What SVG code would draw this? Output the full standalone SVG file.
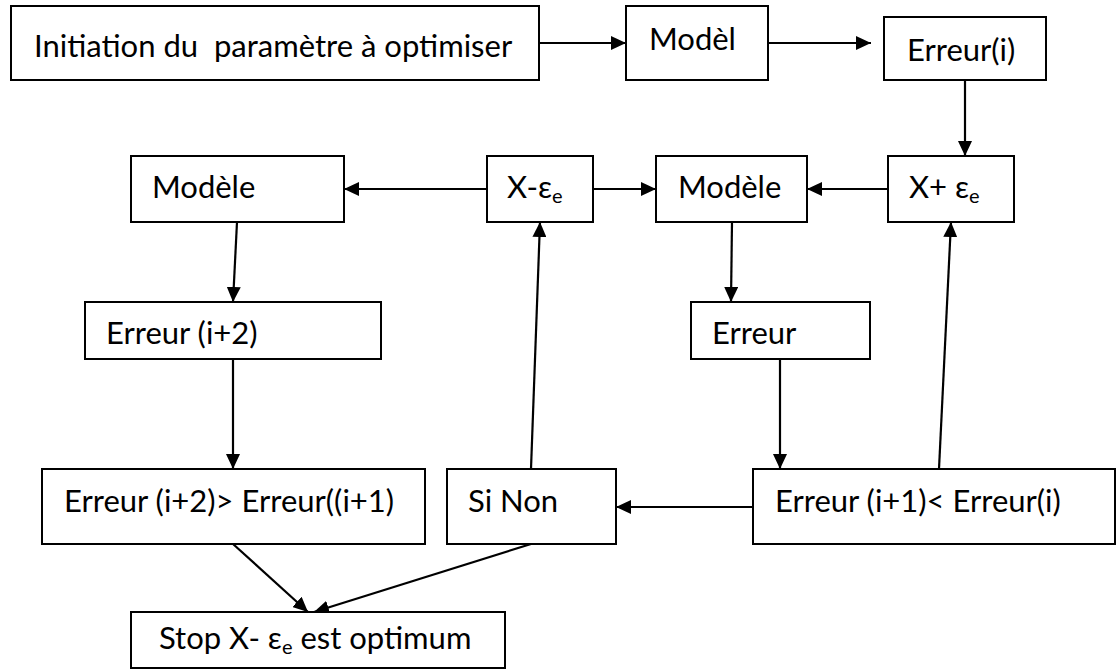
<svg xmlns="http://www.w3.org/2000/svg" width="1117" height="671" viewBox="0 0 1117 671">
<style>
.box{fill:#fff;stroke:#000;stroke-width:2}
.lbl{font-family:Lato,"Liberation Sans",sans-serif;font-size:31px;fill:#000;white-space:pre}
.sub{font-size:20px}
.con{stroke:#000;stroke-width:2.2;fill:none;marker-end:url(#ah)}
</style>
<defs>
<marker id="ah" markerUnits="userSpaceOnUse" markerWidth="15" markerHeight="14" refX="15" refY="7" orient="auto">
<path d="M0,0 L15,7 L0,14 z" fill="#000"/>
</marker>
</defs>
<rect width="1117" height="671" fill="#fff"/>
<g id="connectors">
<line class="con" x1="539" y1="43" x2="626" y2="43"/>
<line class="con" x1="768" y1="43" x2="871" y2="43"/>
<line class="con" x1="965" y1="80" x2="965" y2="156"/>
<line class="con" x1="888" y1="189" x2="807" y2="189"/>
<line class="con" x1="487" y1="189" x2="344" y2="189"/>
<line class="con" x1="593" y1="189" x2="656" y2="189"/>
<line class="con" x1="732" y1="222" x2="731" y2="302"/>
<line class="con" x1="780" y1="359" x2="780" y2="469"/>
<line class="con" x1="753" y1="507" x2="616" y2="507"/>
<line class="con" x1="939" y1="469" x2="951" y2="222"/>
<line class="con" x1="531" y1="469" x2="540" y2="222"/>
<line class="con" x1="237" y1="222" x2="233" y2="302"/>
<line class="con" x1="233" y1="359" x2="233" y2="469"/>
<line class="con" x1="233" y1="544" x2="308" y2="612"/>
<line class="con" x1="531" y1="544" x2="314" y2="612"/>
</g>
<g id="init"><rect class="box" x="11" y="6" width="528" height="74"/><text class="lbl" x="34" y="57" xml:space="preserve">Initiation du  paramètre à optimiser</text></g>
<g id="model1"><rect class="box" x="626" y="6" width="142" height="74"/><text class="lbl" x="649" y="50">Modèl</text></g>
<g id="erreur-i"><rect class="box" x="884" y="17" width="162" height="63"/><text class="lbl" x="907" y="61">Erreur(i)</text></g>
<g id="x-plus"><rect class="box" x="888" y="156" width="126" height="66"/><text class="lbl" x="909" y="198">X+ ε<tspan class="sub" dy="5">e</tspan></text></g>
<g id="modele-mid"><rect class="box" x="656" y="156" width="151" height="66"/><text class="lbl" x="678" y="198">Modèle</text></g>
<g id="x-minus"><rect class="box" x="487" y="156" width="106" height="66"/><text class="lbl" x="507" y="198">X-ε<tspan class="sub" dy="5">e</tspan></text></g>
<g id="modele-left"><rect class="box" x="131" y="156" width="213" height="66"/><text class="lbl" x="152" y="198">Modèle</text></g>
<g id="erreur-i2"><rect class="box" x="85" y="302" width="296" height="57"/><text class="lbl" x="106" y="344">Erreur (i+2)</text></g>
<g id="erreur"><rect class="box" x="691" y="302" width="179" height="57"/><text class="lbl" x="712" y="344">Erreur</text></g>
<g id="cmp-left"><rect class="box" x="42" y="469" width="383" height="75"/><text class="lbl" x="64" y="512">Erreur (i+2)&gt; Erreur((i+1)</text></g>
<g id="si-non"><rect class="box" x="447" y="469" width="169" height="75"/><text class="lbl" x="468" y="512">Si Non</text></g>
<g id="cmp-right"><rect class="box" x="753" y="469" width="362" height="75"/><text class="lbl" x="775" y="512">Erreur (i+1)&lt; Erreur(i)</text></g>
<g id="stop"><rect class="box" x="131" y="612" width="374" height="56"/><text class="lbl" x="159" y="649">Stop X- ε<tspan class="sub" dy="5">e</tspan><tspan dy="-5"> est optimum</tspan></text></g>
</svg>
